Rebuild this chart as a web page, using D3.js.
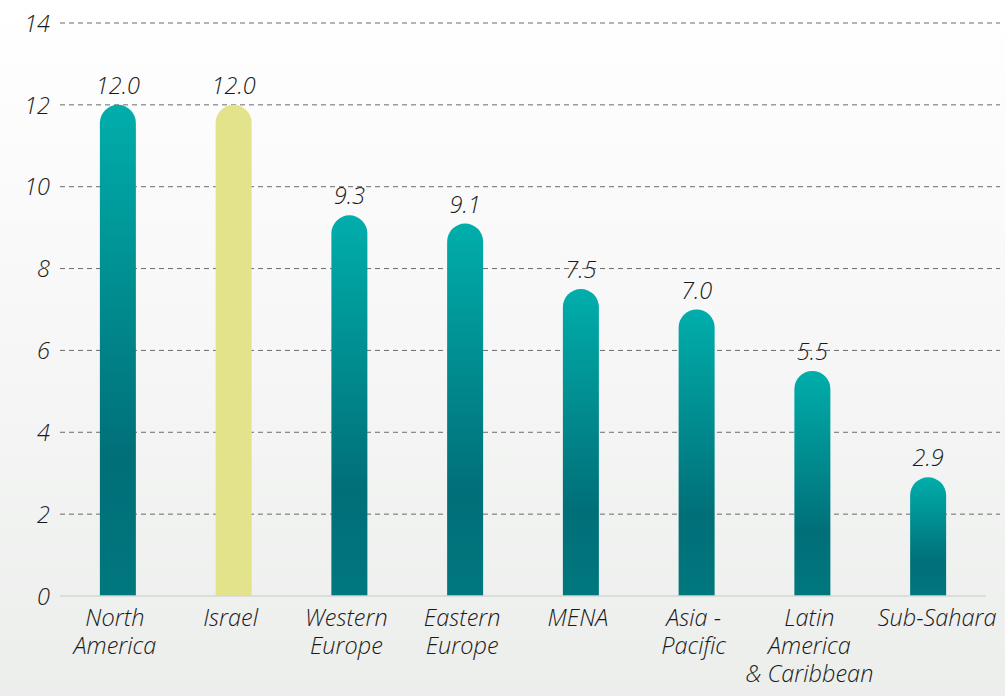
<!DOCTYPE html>
<html>
<head>
<meta charset="utf-8">
<script src="https://cdn.jsdelivr.net/npm/d3@7"></script>
<style>
  html, body { margin: 0; padding: 0; }
  body { width: 1005px; height: 696px; overflow: hidden; }
  text { font-family: "Open Sans", "Noto Sans", sans-serif; font-style: italic; font-weight: 300; fill: #1a1a1a; }
</style>
</head>
<body>
<svg id="chart" width="1005" height="696"></svg>
<script>
// Regional values
const categories = [
  ["North", "America"],
  ["Israel"],
  ["Western", "Europe"],
  ["Eastern", "Europe"],
  ["MENA"],
  ["Asia -", "Pacific"],
  ["Latin", "America", "& Caribbean"],
  ["Sub-Sahara"]
];
const values = [12.0, 12.0, 9.3, 9.1, 7.5, 7.0, 5.5, 2.9];
const highlight = [false, true, false, false, false, false, false, false];
const yTicks = [0, 2, 4, 6, 8, 10, 12, 14];

const W = 1005, H = 696;
const FS = 23.5;
const svg = d3.select("#chart");

// Background wash
const defs = svg.append("defs");
const bg = defs.append("linearGradient").attr("id", "bg")
  .attr("x1", 0).attr("y1", 0).attr("x2", 0).attr("y2", 1);
bg.append("stop").attr("offset", 0).attr("stop-color", "#ffffff");
bg.append("stop").attr("offset", 1).attr("stop-color", "#eceeec");
svg.append("rect").attr("width", W).attr("height", H).attr("fill", "url(#bg)");

// Bar fill
const bar = defs.append("linearGradient").attr("id", "barFill")
  .attr("x1", 0).attr("y1", 0).attr("x2", 0).attr("y2", 1);
bar.append("stop").attr("offset", 0).attr("stop-color", "#00aeab");
bar.append("stop").attr("offset", 0.72).attr("stop-color", "#006f78");
bar.append("stop").attr("offset", 1).attr("stop-color", "#00777e");

const keys = categories.map(c => c.join(" "));
const x = d3.scalePoint().domain(keys).range([60, 986]).padding(0.5);
const y = d3.scaleLinear().domain([0, 14]).range([596, 23]);
const barW = 36, r = barW / 2;

// Grid lines
const grid = svg.append("g");
grid.selectAll("line").data(yTicks.filter(t => t > 0)).join("line")
  .attr("x1", 60).attr("x2", 1000)
  .attr("y1", d => y(d)).attr("y2", d => y(d))
  .attr("stroke", "#6b6b6b").attr("stroke-width", 1)
  .attr("stroke-dasharray", "5,4");

// Y axis labels
const yAxis = d3.axisLeft(y).tickValues(yTicks).tickSize(0).tickPadding(0);
const ya = svg.append("g").attr("transform", "translate(50,0)").call(yAxis);
ya.select(".domain").remove();
ya.attr("font-family", null).attr("font-size", null);
ya.selectAll("text").attr("font-size", FS).attr("dy", "0.35em");

// Bars with rounded tops
function barPath(cx, v) {
  const top = y(v), base = y(0);
  return `M${cx - r},${base} V${top + r} A${r},${r} 0 0 1 ${cx + r},${top + r} V${base} Z`;
}
svg.append("g").selectAll("path").data(values).join("path")
  .attr("d", (d, i) => barPath(x(keys[i]), d))
  .attr("fill", (d, i) => highlight[i] ? "#e2e38b" : "url(#barFill)");

// Baseline
svg.append("line").attr("x1", 60).attr("x2", 986)
  .attr("y1", y(0)).attr("y2", y(0))
  .attr("stroke", "#d4d6d4").attr("stroke-width", 1.5);

// Value labels
svg.append("g").selectAll("text").data(values).join("text")
  .attr("x", (d, i) => x(keys[i]))
  .attr("y", d => y(d) - 11)
  .attr("text-anchor", "middle").attr("font-size", FS)
  .text(d => d.toFixed(1));

// Category labels
const cl = svg.append("g").selectAll("text").data(categories).join("text")
  .attr("x", (d, i) => x(keys[i]) - 3 + (i === categories.length - 1 ? 12 : 0))
  .attr("y", 626)
  .attr("text-anchor", "middle").attr("font-size", FS);
cl.selectAll("tspan").data(d => d).join("tspan")
  .attr("x", function() { return this.parentNode.getAttribute("x"); })
  .attr("dy", (d, i) => i === 0 ? 0 : 28)
  .text(d => d);
</script>
</body>
</html>
